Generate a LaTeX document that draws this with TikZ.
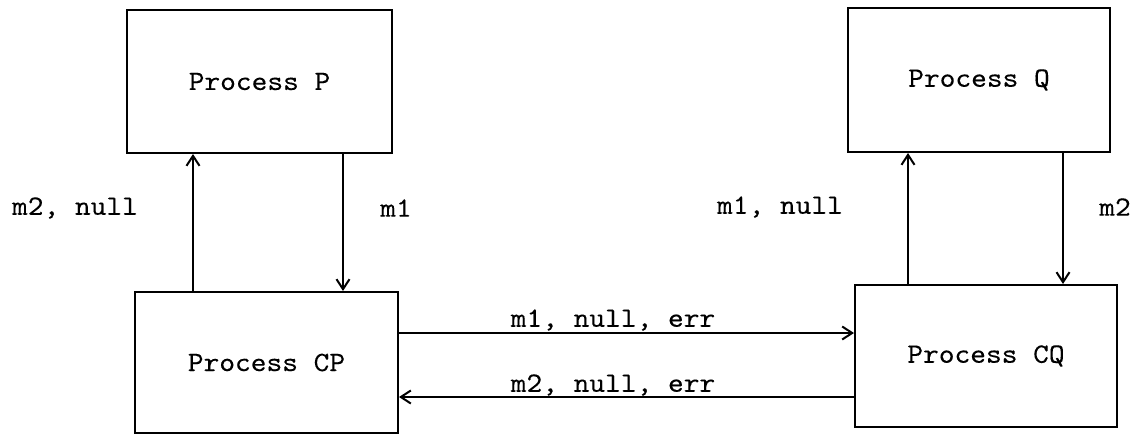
\documentclass[tikz,border=0pt]{standalone}
\usepackage{fontspec}
\newfontfamily\twfont{lmmono10-regular.otf}[FakeStretch=1.07,FakeBold=0.15]
\usetikzlibrary{arrows.meta}
\begin{document}
\begin{tikzpicture}[x=1pt,y=-1pt,
  procbox/.style={draw, line width=2pt, inner sep=0pt},
  msg/.style={-{Straight Barb[length=10pt,width=13pt,line width=2pt]}, line width=1.2pt},
  lbl/.style={font=\fontsize{28}{32}\selectfont\twfont, inner sep=0pt}]
\useasboundingbox (0,0) rectangle (1139,436);
\node[procbox, minimum width=265pt, minimum height=143pt] (P) at (259.5,81.5) {};
\node[lbl] at (P.center) {Process P};
\node[procbox, minimum width=262pt, minimum height=144pt] (Q) at (979,80) {};
\node[lbl] at (Q.center) {Process Q};
\node[procbox, minimum width=263pt, minimum height=141pt] (CP) at (266.5,362.5) {};
\node[lbl] at (CP.center) {Process CP};
\node[procbox, minimum width=262pt, minimum height=142pt] (CQ) at (986,356) {};
\node[lbl] at (CQ.center) {Process CQ};
% vertical arrows
\draw[msg] (CP.north -| 193,0) -- (P.south -| 193,0);
\draw[msg] (P.south -| 343,0) -- (CP.north -| 343,0);
\draw[msg] (CQ.north -| 908,0) -- (Q.south -| 908,0);
\draw[msg] (Q.south -| 1063,0) -- (CQ.north -| 1063,0);
% horizontal arrows
\draw[msg] (CP.east |- 0,333) -- (CQ.west |- 0,333);
\draw[msg] (CQ.west |- 0,397) -- (CP.east |- 0,397);
% labels
\node[lbl] (l1) at (75,208) {m2, null};
\node[lbl] (l2) at (396,208) {m1};
\node[lbl] (l3) at (780,207) {m1, null};
\node[lbl] (l4) at (1115,207) {m2};
\node[lbl] (l5) at (613,320) {m1, null, err};
\node[lbl] (l6) at (613,385) {m2, null, err};
\end{tikzpicture}
\end{document}
